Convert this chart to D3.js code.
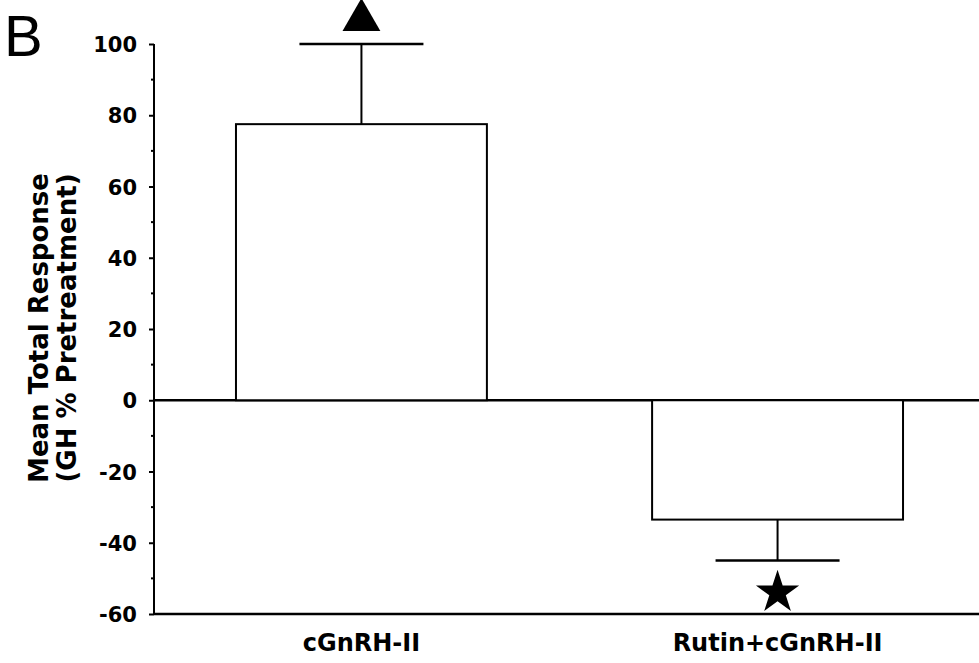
<!DOCTYPE html>
<meta charset="utf-8">
<style>
  body { margin: 0; background: #fff; }
  text { font-family: "Liberation Sans", Arial, sans-serif; fill: #000; }
  .bold { font-family: "DejaVu Sans", sans-serif; font-weight: bold; }
</style>
<body>
<script src="https://d3js.org/d3.v7.min.js"></script>
<script>

// data
var groups = ["cGnRH-II", "Rutin+cGnRH-II"];
var means = [77.5, -33.5];
var errEnds = [100, -45];
var markers = ["triangle", "star"];
var yTicks = [100, 80, 60, 40, 20, 0, -20, -40, -60];

var width = 979, height = 663;

var svg = d3.select("body").append("svg")
    .attr("width", width)
    .attr("height", height);

// scales
var y = d3.scaleLinear()
    .domain([-60, 100])
    .range([614, 44]);

var x = d3.scaleBand()
    .domain(groups)
    .range([154, 985])
    .paddingInner(0.397)
    .paddingOuter(0.197);

// y axis with minor ticks
var yAxis = svg.append("g")
    .attr("transform", "translate(154,0)")
    .call(d3.axisLeft(y).tickValues(yTicks).tickSize(5).tickPadding(12)
      .tickFormat(function(d) { return String(d); }));
yAxis.select(".domain").attr("stroke-width", 2).attr("d", "M0," + y(100) + "V" + y(-60));
yAxis.selectAll(".tick line").attr("stroke-width", 2);
yAxis.selectAll("text")
    .attr("class", "bold")
    .attr("dy", "0.36em")
    .style("font-size", "21px");
yAxis.attr("font-family", null).attr("font-size", null);

svg.append("g")
    .selectAll("line")
    .data(d3.range(-50, 100, 20))
    .enter().append("line")
      .attr("x1", 151).attr("x2", 154)
      .attr("y1", function(d) { return y(d); })
      .attr("y2", function(d) { return y(d); })
      .attr("stroke", "#000")
      .attr("stroke-width", 2);

// zero line and bottom line
svg.append("line")
    .attr("x1", 154).attr("x2", width)
    .attr("y1", y(0)).attr("y2", y(0))
    .attr("stroke", "#000").attr("stroke-width", 2.5);
svg.append("line")
    .attr("x1", 154).attr("x2", width)
    .attr("y1", y(-60)).attr("y2", y(-60))
    .attr("stroke", "#000").attr("stroke-width", 2.5);

// bars
svg.append("g")
    .selectAll("rect")
    .data(groups)
    .enter().append("rect")
      .attr("x", function(d) { return x(d); })
      .attr("width", x.bandwidth())
      .attr("y", function(d, i) { return y(Math.max(0, means[i])); })
      .attr("height", function(d, i) { return Math.abs(y(means[i]) - y(0)); })
      .attr("fill", "#fff")
      .attr("stroke", "#000")
      .attr("stroke-width", 2);

// error bars
var capHalf = 62;
var err = svg.append("g");
groups.forEach(function(g, i) {
  var cx = x(g) + x.bandwidth() / 2;
  err.append("line")
      .attr("x1", cx).attr("x2", cx)
      .attr("y1", y(means[i])).attr("y2", y(errEnds[i]))
      .attr("stroke", "#000").attr("stroke-width", 2);
  err.append("line")
      .attr("x1", cx - capHalf).attr("x2", cx + capHalf)
      .attr("y1", y(errEnds[i])).attr("y2", y(errEnds[i]))
      .attr("stroke", "#000").attr("stroke-width", 2.5);
});

// significance markers
var symTri = d3.symbol().type(d3.symbolTriangle).size(620);
var symStar = d3.symbol().type(d3.symbolStar).size(580);
groups.forEach(function(g, i) {
  var cx = x(g) + x.bandwidth() / 2;
  if (markers[i] == "triangle") {
    svg.append("path")
        .attr("d", symTri())
        .attr("transform", "translate(" + cx + "," + (y(errEnds[i]) - 24) + ")")
        .attr("fill", "#000");
  } else {
    svg.append("path")
        .attr("d", symStar())
        .attr("transform", "translate(" + cx + "," + (y(errEnds[i]) + 32) + ")")
        .attr("fill", "#000");
  }
});

// category labels
svg.append("g")
    .selectAll("text")
    .data(groups)
    .enter().append("text")
      .attr("class", "bold")
      .attr("x", function(d) { return x(d) + x.bandwidth() / 2; })
      .attr("y", 651)
      .attr("text-anchor", "middle")
      .style("font-size", "24px")
      .text(function(d) { return d; });

// y label
var yl = svg.append("text")
    .attr("class", "bold")
    .attr("text-anchor", "middle")
    .attr("transform", "translate(48,328)rotate(-90)")
    .style("font-size", "26px");
yl.append("tspan").attr("x", 0).attr("dy", 0).text("Mean Total Response");
yl.append("tspan").attr("x", 0).attr("dy", 28).text("(GH % Pretreatment)");

// panel letter
svg.append("text")
    .attr("x", 4)
    .attr("y", 56)
    .style("font-size", "58px")
    .text("B");

</script>
</body>
